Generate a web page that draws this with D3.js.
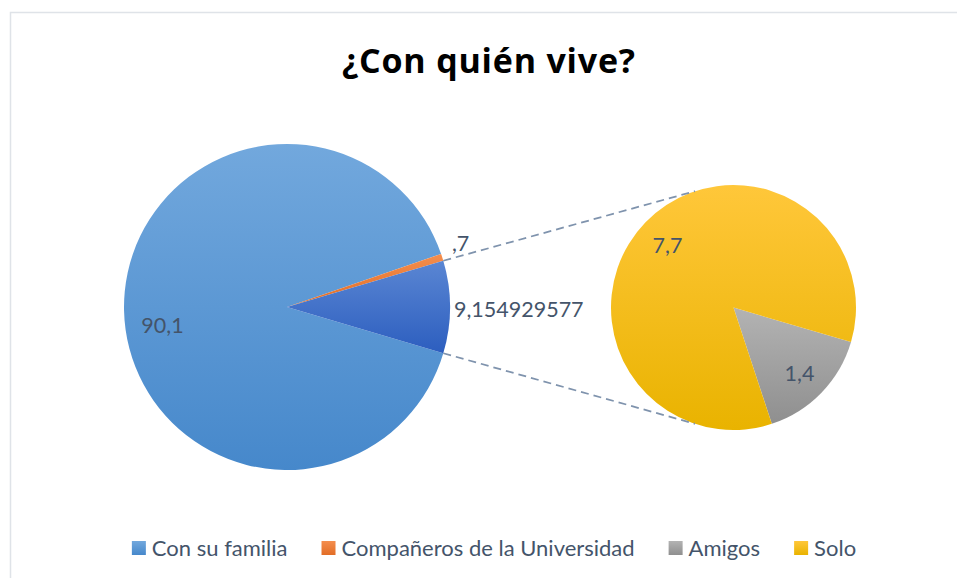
<!DOCTYPE html>
<html>
<head>
<meta charset="utf-8">
<script src="https://cdn.jsdelivr.net/npm/d3@7"></script>
<style>
  body { margin: 0; background: #fff; }
  svg { display: block; font-family: Lato, "Open Sans", sans-serif; }
</style>
</head>
<body>
<script>
// data
const mainLabels = ["Con su familia", "Compañeros de la Universidad", "Otros"];
const mainValues = [90.1, 0.7, 9.154929577];
const mainText = ["90,1", ",7", "9,154929577"];
const subLabels = ["Amigos", "Solo"];
const subValues = [1.4, 7.7];
const subText = ["1,4", "7,7"];
const legendLabels = ["Con su familia", "Compañeros de la Universidad", "Amigos", "Solo"];

const width = 957, height = 578;
const textColor = "#44546A";

const svg = d3.select("body").append("svg")
    .attr("width", width).attr("height", height);

// gradients (light top -> dark bottom)
const grads = {
    familia: ["#72a8dd", "#4688cb"],
    comp: ["#f48e4e", "#e26d26"],
    otros: ["#5a86d3", "#2c5ebf"],
    amigos: ["#b3b3b3", "#8f8f8f"],
    solo: ["#ffc73a", "#e9b300"]
};
const defs = svg.append("defs");
Object.keys(grads).forEach(k => {
    const g = defs.append("linearGradient").attr("id", "g-" + k)
        .attr("x1", 0).attr("y1", 0).attr("x2", 0).attr("y2", 1);
    g.append("stop").attr("offset", "0%").attr("stop-color", grads[k][0]);
    g.append("stop").attr("offset", "100%").attr("stop-color", grads[k][1]);
});
const mainFill = ["url(#g-familia)", "url(#g-comp)", "url(#g-otros)"];
const subFill = ["url(#g-amigos)", "url(#g-solo)"];
const legendFill = ["url(#g-familia)", "url(#g-comp)", "url(#g-amigos)", "url(#g-solo)"];

// chart border
svg.append("rect").attr("x", 10.5).attr("y", 12.5)
    .attr("width", 960).attr("height", 580)
    .attr("fill", "none").attr("stroke", "#dfe3e8").attr("stroke-width", 1.5);

// title
svg.append("text").attr("x", 488.5).attr("y", 73)
    .attr("text-anchor", "middle").attr("font-size", 34).attr("font-weight", "bold")
    .attr("textLength", 293).attr("lengthAdjust", "spacing")
    .style("font-family", "'Open Sans', sans-serif")
    .attr("fill", "#000").text("¿Con quién vive?");

// main pie
const mc = { x: 287, y: 307 }, mr = 163;
const total = d3.sum(mainValues);
const otherAng = mainValues[2] / total * 2 * Math.PI;
const mStart = Math.PI / 2 + otherAng / 2 - 2 * Math.PI;
const mainPie = d3.pie().sort(null).startAngle(mStart).endAngle(mStart + 2 * Math.PI)(mainValues);
const mainArc = d3.arc().innerRadius(0).outerRadius(mr);

const gMain = svg.append("g").attr("transform", `translate(${mc.x},${mc.y})`);
gMain.selectAll("path").data(mainPie).enter().append("path")
    .attr("d", mainArc).attr("fill", (d, i) => mainFill[i]);

// secondary pie
const sc = { x: 733.5, y: 307.5 }, sr = 122.5;
const sStart = 106.4 * Math.PI / 180;
const subPie = d3.pie().sort(null).startAngle(sStart).endAngle(sStart + 2 * Math.PI)(subValues);
const subArc = d3.arc().innerRadius(0).outerRadius(sr);

const gSub = svg.append("g").attr("transform", `translate(${sc.x},${sc.y})`);
gSub.selectAll("path").data(subPie).enter().append("path")
    .attr("d", subArc).attr("fill", (d, i) => subFill[i]);

// connector lines
const polar = (c, r, a) => [c.x + r * Math.sin(a), c.y - r * Math.cos(a)];
const connTop = [polar(mc, mr, mainPie[2].startAngle), polar(sc, sr, -18.3 * Math.PI / 180)];
const connBot = [polar(mc, mr, mainPie[2].endAngle), polar(sc, sr, Math.PI + 18.3 * Math.PI / 180)];
[connTop, connBot].forEach(l => {
    svg.append("line")
        .attr("x1", l[0][0]).attr("y1", l[0][1]).attr("x2", l[1][0]).attr("y2", l[1][1])
        .attr("stroke", "#7f93ad").attr("stroke-width", 1.75).attr("stroke-dasharray", "8,5");
});

// data labels
const labelSize = 21.5;
const mid = d => (d.startAngle + d.endAngle) / 2;
// familia: inside
let p = polar(mc, mr * 0.77, mid(mainPie[0]));
svg.append("text").attr("x", p[0] + 1).attr("y", p[1] + 23.5).attr("text-anchor", "middle")
    .attr("font-size", labelSize).attr("fill", textColor).text(mainText[0]);
// compañeros: outside end
p = polar(mc, mr + 16, mid(mainPie[1]));
svg.append("text").attr("x", p[0] - 5.5).attr("y", p[1] - 1.5).attr("text-anchor", "start")
    .attr("font-size", labelSize).attr("fill", textColor).text(mainText[1]);
// otros: outside right
p = polar(mc, mr + 4, mid(mainPie[2]));
svg.append("text").attr("x", p[0]).attr("y", p[1] + 10).attr("text-anchor", "start")
    .attr("font-size", labelSize).attr("fill", textColor).text(mainText[2]);
// secondary labels
subPie.forEach((d, i) => {
    const q = polar(sc, sr * 0.75, mid(d));
    svg.append("text").attr("x", q[0]).attr("y", q[1] + 9.5).attr("text-anchor", "middle")
        .attr("font-size", labelSize).attr("fill", textColor).text(subText[i]);
});

// legend
const legend = svg.append("g");
let lx = 0;
legendLabels.forEach((name, i) => {
    const item = legend.append("g").attr("transform", `translate(${lx},0)`);
    item.append("rect").attr("x", 0).attr("y", 541).attr("width", 14).attr("height", 14)
        .attr("fill", legendFill[i]);
    const t = item.append("text").attr("x", 20).attr("y", 556)
        .attr("font-size", 22).attr("fill", textColor).text(name);
    lx += 20 + t.node().getComputedTextLength() + 34;
});
const legendW = lx - 34;
legend.attr("transform", `translate(${494 - legendW / 2},0)`);
</script>
</body>
</html>
